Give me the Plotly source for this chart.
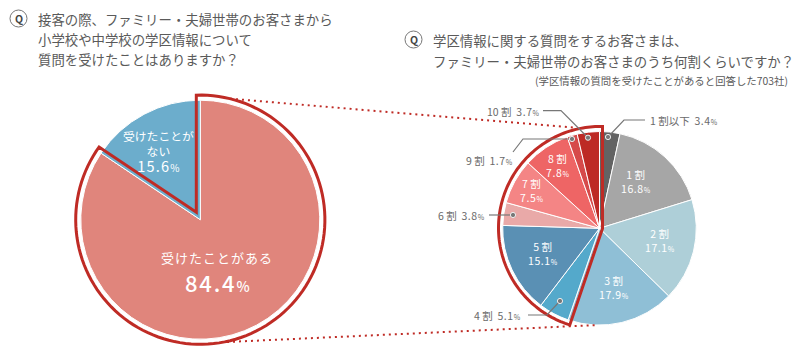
import numpy as np
import plotly.graph_objects as go

W, H = 800, 355
FONT = "Noto Sans CJK JP"
GRAY = "#5a5a5a"
RED = "#bf2b25"

left_labels = ["受けたことがある", "受けたことがない"]
left_values = [84.4, 15.6]
left_colors = ["#e0857c", "#6cadcc"]

right_labels = ["1割以下", "1割", "2割", "3割", "4割", "5割", "6割", "7割", "8割", "9割", "10割"]
right_values = [3.4, 16.8, 17.1, 17.9, 5.1, 15.1, 3.8, 7.5, 7.8, 1.7, 3.7]
right_colors = ["#636363", "#a6a6a6", "#aecfd8", "#8fbfd6", "#54a9cb", "#5a90b4",
                "#e9a9a8", "#f48585", "#ee6565", "#d64a4a", "#bd2a25"]

LC, LR = (200.3, 219.7), 119.5
RC, RR = (599.5, 228.3), 96.8


def fx(x):
    return x / W


def fy(y):
    return 1 - y / H


def pie(labels, values, colors, c, r):
    return go.Pie(labels=labels, values=values, sort=False, direction="clockwise", rotation=0,
                  marker=dict(colors=colors, line=dict(color="#ffffff", width=1)),
                  textinfo="none", hoverinfo="label+value", showlegend=False,
                  domain=dict(x=[fx(c[0] - r), fx(c[0] + r)], y=[fy(c[1] + r), fy(c[1] - r)]))


def polar(c, r, share):
    a = share * 2 * np.pi
    return c[0] + r * np.sin(a), c[1] - r * np.cos(a)


def outline(c, R, d, start, end):
    """Offset outline round the slice group running clockwise from share start to share end."""
    pad = np.arcsin(d / R) / (2 * np.pi)
    shares = np.linspace(start - pad, end + pad, 120)
    gap = (1 - (end - start)) / 2
    tip = polar(c, d / np.sin(gap * 2 * np.pi), end + gap)
    pts = [tip] + [polar(c, R, s) for s in shares]
    path = "M " + " L ".join(f"{fx(x):.5f} {fy(y):.5f}" for x, y in pts) + " Z"
    return dict(type="path", path=path, xref="paper", yref="paper",
                line=dict(color=RED, width=3), fillcolor="rgba(0,0,0,0)", layer="above")


def polyline(pts, color, width, dash="solid"):
    path = "M " + " L ".join(f"{fx(x):.5f} {fy(y):.5f}" for x, y in pts)
    return dict(type="path", path=path, xref="paper", yref="paper",
                line=dict(color=color, width=width, dash=dash), layer="above")


def dot(x, y, r=2.6):
    return dict(type="circle", xref="paper", yref="paper",
                x0=fx(x - r), x1=fx(x + r), y0=fy(y + r), y1=fy(y - r),
                fillcolor="#777777", line=dict(color="#eeeeee", width=1), layer="above")


def text(x, y, s, size=12, color=GRAY, anchor="left", weight=400):
    return dict(text=s, x=fx(x), y=fy(y), xref="paper", yref="paper", showarrow=False,
                xanchor=anchor, yanchor="middle", align=anchor,
                font=dict(family=FONT, size=size, color=color, weight=weight))


def spaced(s, sp):
    return f'<span style="letter-spacing:{sp}px">{s}</span>'


def pct(v, small, sp=0.6):
    return spaced(f"{v}", sp) + f'<span style="font-size:{small}px">%</span>'


fig = go.Figure([pie(left_labels, left_values, left_colors, LC, LR),
                 pie(right_labels, right_values, right_colors, RC, RR)])

right_start = sum(right_values[:4]) / 100
shapes = [
    outline(LC, 124.6, 4, 0, left_values[0] / 100),
    outline((600, 228), 101.5, 2.5, right_start, 1),
    polyline([(230, 98.7), (574, 127.5)], RED, 2, "2px,4px"),
    polyline([(227, 342), (598, 325)], RED, 2, "2px,4px"),
    polyline([(543, 110.7), (561, 110.7), (588, 137.7)], "#777777", 1.2),
    polyline([(608, 137), (624, 120), (645, 120)], "#777777", 1.2),
    polyline([(572, 139), (523, 139), (513, 152)], "#777777", 1.2),
    polyline([(489, 215), (513, 215)], "#777777", 1.2),
    polyline([(560, 301), (547, 315), (528, 315)], "#777777", 1.2),
    dot(588, 137.7), dot(608, 137), dot(572, 139), dot(513, 215), dot(560, 301),
    dict(type="circle", xref="paper", yref="paper", x0=fx(10), x1=fx(27), y0=fy(27), y1=fy(10),
         line=dict(color="#777777", width=1), fillcolor="#ffffff", layer="above"),
    dict(type="circle", xref="paper", yref="paper", x0=fx(405), x1=fx(422), y0=fy(48), y1=fy(31),
         line=dict(color="#777777", width=1), fillcolor="#ffffff", layer="above"),
]

TS = 13.4
ann = [
    text(18.5, 18.3, "Q", 10.5, "#444444", "center", 700),
    text(36, 19, "接客の際、ファミリー・夫婦世帯のお客さまから", TS),
    text(36, 39, "小学校や中学校の学区情報について", TS),
    text(36, 59, "質問を受けたことはありますか？", TS),
    text(413.5, 39.6, "Q", 10.5, "#444444", "center", 700),
    text(431, 40.5, "学区情報に関する質問をするお客さまは、", TS),
    text(431, 60.5, "ファミリー・夫婦世帯のお客さまのうち何割くらいですか？", TS),
    text(790, 80, "(学区情報の質問を受けたことがあると回答した703社)", 10.4, GRAY, "right"),
    text(158, 151, "受けたことが<br>ない<br>"
         + f'<span style="font-size:14.5px">{pct(left_values[1], 10, 1.2)}</span>',
         11.8, "#ffffff", "center", 400),
    text(217, 257, spaced("受けたことがある", 1), 13, "#ffffff", "center", 400),
    text(217, 282, pct(left_values[0], 14, 1.8), 22, "#ffffff", "center", 500),
]

inner = {1: (636, 181), 2: (660, 240), 3: (613.5, 287.5),
         5: (543, 253), 7: (531, 190.5), 8: (557, 165)}
for i, (x, y) in inner.items():
    ann.append(text(x, y, right_labels[i].replace("割", " 割") + "<br>" + pct(right_values[i], 7),
                    10.5, "#ffffff", "center", 400))

outer = {0: (648, 120), 10: (485, 111), 9: (464, 160), 6: (436, 215), 4: (472, 315)}
for i, (x, y) in outer.items():
    lab = right_labels[i].replace("割", " 割", 1) if i != 10 else "10 割"
    ann.append(text(x, y, f"{lab}  " + pct(right_values[i], 7), 10.5, "#6a6a6a"))

fig.update_layout(width=W, height=H, margin=dict(l=0, r=0, t=0, b=0),
                  paper_bgcolor="#ffffff", shapes=shapes, annotations=ann)
fig.write_html("out.html", config=dict(displayModeBar=False),
               post_script="document.body.style.margin='0';document.body.style.overflow='hidden';")
